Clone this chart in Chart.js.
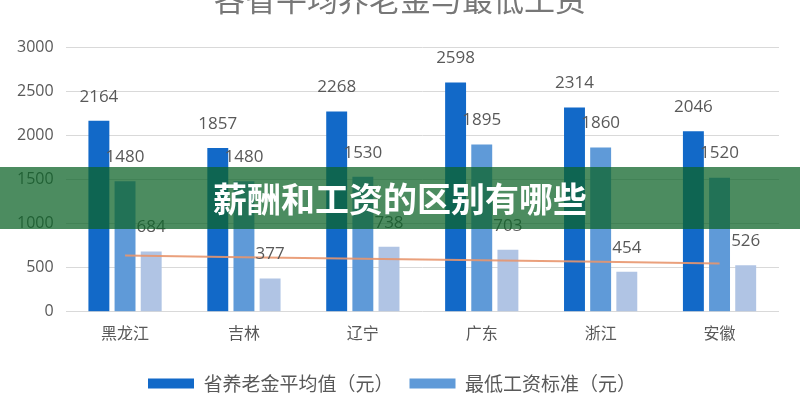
<!DOCTYPE html>
<html>
<head>
<meta charset="utf-8">
<script src="https://cdn.jsdelivr.net/npm/chart.js@4.4.1/dist/chart.umd.min.js"></script>
<style>
  body { margin: 0; background: #fff; }
  #wrap { position: relative; width: 800px; height: 400px; overflow: hidden; }
  #title {
    position: absolute; left: 0; right: 0; top: -18px;
    text-align: center; font: 31px/1 "Noto Sans CJK SC"; color: #777;
  }
  #banner {
    position: absolute; left: 0; top: 167px; width: 800px; height: 62px;
    background: rgba(14, 100, 40, 0.74); color: #fff;
    font: bold 34px/62px "Noto Sans CJK SC"; text-align: center;
  }
</style>
</head>
<body>
<div id="wrap">
  <canvas id="chart" width="800" height="400"></canvas>
  <div id="title">各省平均养老金与最低工资</div>
  <div id="banner">薪酬和工资的区别有哪些</div>
</div>
<script>
const provinces = ['黑龙江', '吉林', '辽宁', '广东', '浙江', '安徽'];
const pensionAvg = [2164, 1857, 2268, 2598, 2314, 2046];
const minWage = [1480, 1480, 1530, 1895, 1860, 1520];
const gap = [684, 377, 738, 703, 454, 526];
const trend = [637, 619, 602, 584, 566, 548];
const yTicks = [0, 500, 1000, 1500, 2000, 2500, 3000];

const grey = '#595959';

const barLabels = {
  id: 'barLabels',
  afterDatasetsDraw(chart) {
    const ctx = chart.ctx;
    ctx.save();
    ctx.font = '17px "Open Sans"';
    ctx.fillStyle = grey;
    ctx.textAlign = 'center';
    ctx.textBaseline = 'middle';
    chart.data.datasets.forEach((ds, i) => {
      if (ds.type === 'line') return;
      chart.getDatasetMeta(i).data.forEach((bar, j) => {
        ctx.fillText(ds.data[j], bar.x, bar.y - 24);
      });
    });
    ctx.restore();
  },
};

Chart.defaults.font.family = '"Open Sans", "Noto Sans CJK SC"';

new Chart(document.getElementById('chart'), {
  type: 'bar',
  data: {
    labels: provinces,
    datasets: [
      {
        label: '省养老金平均值（元）',
        data: pensionAvg,
        backgroundColor: '#1269c8',
      },
      {
        label: '最低工资标准（元）',
        data: minWage,
        backgroundColor: '#5f9ad8',
      },
      {
        label: '差额（元）',
        data: gap,
        backgroundColor: '#b0c4e4',
      },
      {
        type: 'line',
        label: '趋势',
        data: trend,
        borderColor: 'rgba(232, 150, 110, 0.9)',
        borderWidth: 2,
        pointRadius: 0,
        order: -1,
      },
    ],
  },
  options: {
    responsive: false,
    animation: false,
    layout: { padding: { left: 5, right: 21, top: 47, bottom: -3 } },
    datasets: {
      bar: { categoryPercentage: 0.66, barPercentage: 0.8 },
    },
    plugins: {
      tooltip: { enabled: false },
      legend: {
        position: 'bottom',
        labels: {
          boxWidth: 46,
          boxHeight: 10,
          padding: 16,
          color: grey,
          font: { size: 19, family: '"Noto Sans CJK SC"' },
          filter: (item) => item.datasetIndex < 2,
        },
      },
    },
    scales: {
      x: {
        grid: { display: false },
        border: { display: false },
        afterFit: (scale) => {
          scale.height += 11;
        },
        ticks: {
          color: grey,
          padding: 4,
          font: { size: 16, family: '"Noto Sans CJK SC"' },
        },
      },
      y: {
        min: 0,
        max: 3000,
        afterBuildTicks: (scale) => {
          scale.ticks = yTicks.map((v) => ({ value: v }));
        },
        grid: { color: '#d9d9d9', drawTicks: false },
        border: { display: false },
        ticks: {
          color: grey,
          padding: 12,
          font: { size: 16 },
          callback: (value) => String(value),
        },
      },
    },
  },
  plugins: [barLabels],
});
</script>
</body>
</html>
